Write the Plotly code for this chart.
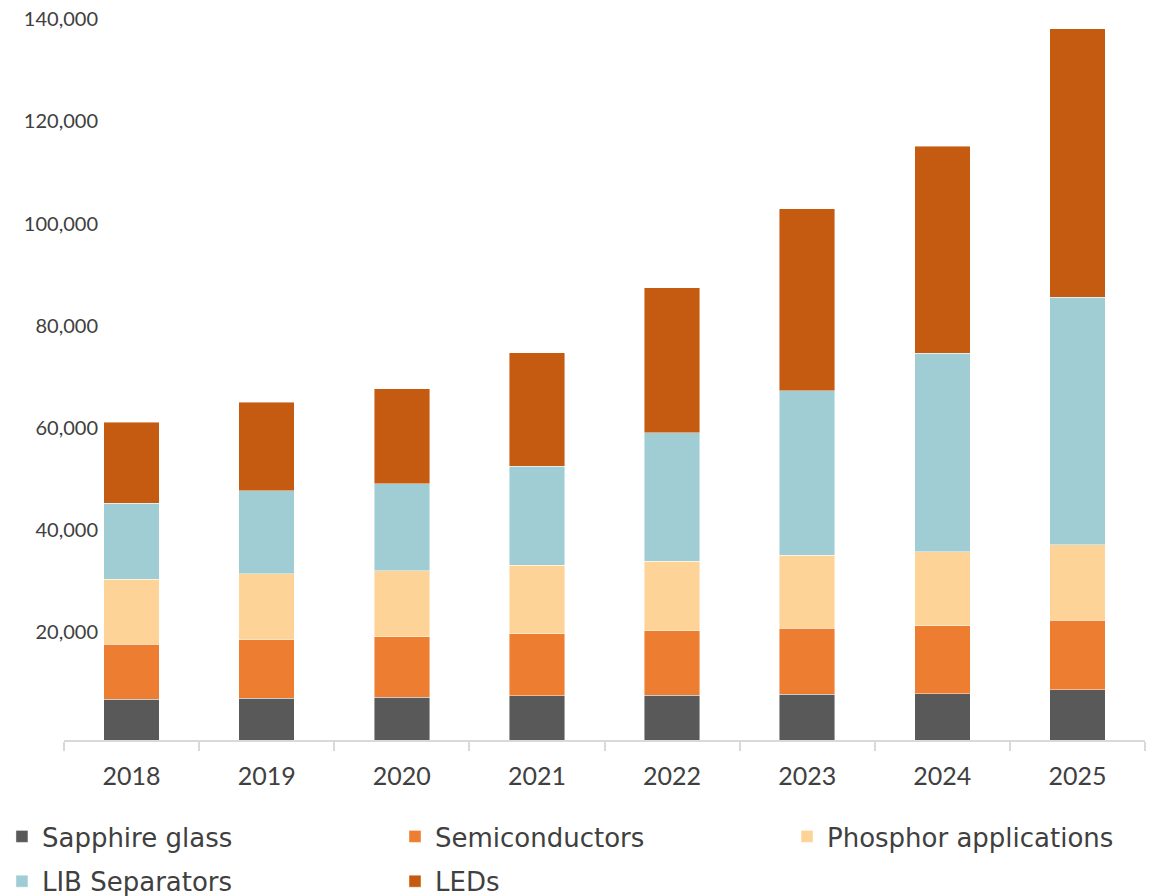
import plotly.graph_objects as go

years = ["2018", "2019", "2020", "2021", "2022", "2023", "2024", "2025"]
sapphire_glass = [8000, 8200, 8400, 8700, 8800, 9000, 9100, 9800]
semiconductors = [10800, 11400, 11800, 12100, 12600, 12900, 13300, 13700]
phosphor_applications = [12700, 13000, 13000, 13400, 13600, 14300, 14500, 14700]
lib_separators = [14900, 16200, 17000, 19400, 25200, 32200, 38900, 48500]
leds = [15800, 17400, 18600, 22300, 28400, 35700, 40500, 52600]

series = [
    ("Sapphire glass", sapphire_glass, "#595959", "legend"),
    ("Semiconductors", semiconductors, "#ED7D31", "legend2"),
    ("Phosphor applications", phosphor_applications, "#FED397", "legend3"),
    ("LIB Separators", lib_separators, "#9FCDD3", "legend"),
    ("LEDs", leds, "#C55A11", "legend2"),
]

ytick_vals = [20000, 40000, 60000, 80000, 100000, 120000, 140000]

fig = go.Figure()
for name, vals, color, lg in series:
    fig.add_trace(go.Bar(
        x=years, y=vals, name=name, legend=lg, legendgroup=name,
        marker=dict(color=color, line=dict(color="rgba(255,255,255,0.55)", width=0.8)),
    ))

# plot area: figure y 2..732 (730 px) spans 0..143000
legend_font = dict(family="DejaVu Sans", size=26, color="#404040")
legend_y = -(805 - 732) / 730
legend_common = dict(
    orientation="v", y=legend_y, yanchor="top", xanchor="left",
    font=legend_font, itemwidth=30, tracegroupgap=8, traceorder="grouped",
    bgcolor="rgba(0,0,0,0)",
)

fig.update_layout(
    barmode="stack",
    bargap=0.59,
    width=1150, height=888,
    margin=dict(l=56, r=13, t=2, b=156, autoexpand=False),
    paper_bgcolor="white",
    plot_bgcolor="white",
    font=dict(family="Lato, sans-serif", color="#404040"),
    showlegend=True,
    legend=dict(x=-0.0574, **legend_common),
    legend2=dict(x=0.3062, **legend_common),
    legend3=dict(x=0.6688, **legend_common),
    xaxis=dict(
        automargin=False,
        showline=True, linecolor="#d9d9d9", linewidth=1.5,
        ticks="outside", tickson="boundaries", ticklen=9, tickcolor="#d9d9d9", tickwidth=1.5,
        ticklabelstandoff=13,
        tickfont=dict(family="Lato, sans-serif", size=25, color="#404040"),
        showgrid=False,
    ),
    yaxis=dict(
        automargin=False,
        range=[0, 143000],
        tickvals=ytick_vals,
        tickformat=",d",
        showline=False, showgrid=False, zeroline=False,
        ticks="",
        ticklabelshift=-6,
        ticklabelstandoff=-35,
        ticklabeloverflow="allow",
        tickfont=dict(family="Lato, sans-serif", size=20, color="#404040"),
    ),
)

fig.write_html("out.html")
